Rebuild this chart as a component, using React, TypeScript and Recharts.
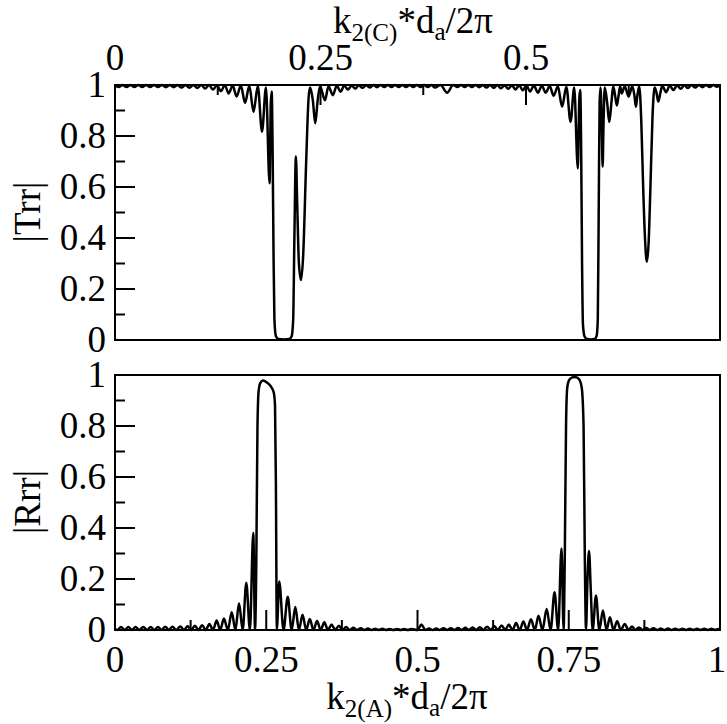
import { LineChart, Line, XAxis, YAxis, ReferenceArea } from "recharts";

// |Trr| (upper panel) and |Rrr| (lower panel) against k2(A)*da/2π.
// Points as [x, value]; x is always the k2(A) coordinate.

const TRR_LEFT: [number, number][] = [
  [0, 0.997], [0.006, 0.992], [0.0125, 1], [0.019, 0.992], [0.0255, 1], [0.032, 0.992], [0.0385, 1],
  [0.045, 0.992], [0.0515, 1], [0.058, 0.992], [0.0645, 1], [0.071, 0.992], [0.0775, 1],
  [0.084, 0.991], [0.0905, 1], [0.097, 0.991], [0.1035, 1], [0.11, 0.99], [0.1165, 1],
  [0.123, 0.989], [0.1295, 1], [0.136, 0.988], [0.1425, 1], [0.149, 0.986], [0.1555, 1],
  [0.162, 0.982], [0.1685, 0.999], [0.175, 0.976], [0.1815, 0.999], [0.188, 0.967], [0.1945, 0.998],
  [0.201, 0.955], [0.208, 0.998], [0.215, 0.93], [0.222, 0.997], [0.229, 0.895], [0.236, 0.996],
  [0.243, 0.817], [0.2495, 0.99], [0.2555, 0.615],
];

const TRR_GAP1: [number, number][] = [
  [0.2575, 0.93], [0.259, 0.975], [0.2605, 0.75], [0.262, 0.35], [0.2635, 0.08], [0.266, 0.015],
  [0.27, 0.004], [0.279, 0.002], [0.288, 0.004], [0.292, 0.015], [0.2945, 0.08], [0.2965, 0.4],
  [0.299, 0.72], [0.301, 0.55], [0.304, 0.3], [0.3074, 0.235], [0.311, 0.33], [0.316, 0.7],
  [0.32, 0.95], [0.3225, 0.99], [0.327, 0.94], [0.331, 0.85], [0.335, 0.94], [0.339, 0.995],
];

const TRR_MID: [number, number][] = [
  [0.347, 0.94], [0.353, 0.995], [0.36, 0.96], [0.3665, 0.997], [0.373, 0.974], [0.379, 0.998],
  [0.385, 0.982], [0.391, 0.998], [0.397, 0.986], [0.403, 0.999], [0.409, 0.989], [0.415, 0.999],
  [0.421, 0.99], [0.427, 1], [0.433, 0.991], [0.439, 1], [0.445, 0.992], [0.451, 1],
  [0.457, 0.992], [0.463, 1], [0.469, 0.992], [0.475, 1], [0.481, 0.992], [0.487, 1],
  [0.493, 0.992], [0.499, 1], [0.505, 0.992], [0.511, 1], [0.517, 0.992], [0.523, 1],
  [0.529, 0.99], [0.538, 1], [0.549, 0.97], [0.559, 1], [0.566, 0.992], [0.572, 1],
  [0.578, 0.992], [0.584, 1], [0.59, 0.992], [0.596, 1], [0.602, 0.991], [0.608, 1],
  [0.614, 0.99], [0.62, 1], [0.626, 0.989], [0.632, 1], [0.638, 0.987], [0.644, 0.999],
  [0.65, 0.985], [0.656, 0.999], [0.662, 0.982], [0.668, 0.999], [0.674, 0.979], [0.68, 0.998],
  [0.686, 0.975], [0.6925, 0.998], [0.699, 0.97], [0.7055, 0.997], [0.712, 0.97], [0.7185, 0.996],
  [0.725, 0.958], [0.732, 0.995], [0.739, 0.915], [0.746, 0.993], [0.753, 0.856], [0.759, 0.99],
  [0.765, 0.673],
];

const TRR_GAP2: [number, number][] = [
  [0.7675, 0.95], [0.769, 0.98], [0.7705, 0.75], [0.772, 0.3], [0.7735, 0.06], [0.776, 0.015],
  [0.78, 0.004], [0.7865, 0.002], [0.793, 0.004], [0.796, 0.015], [0.798, 0.08], [0.7995, 0.5],
  [0.801, 0.93], [0.8025, 0.99], [0.8045, 0.85], [0.806, 0.68], [0.8075, 0.85], [0.8095, 0.99],
  [0.8135, 0.93], [0.817, 0.855], [0.8205, 0.93], [0.8235, 0.995], [0.8265, 0.96], [0.8295, 0.92],
  [0.8325, 0.96], [0.835, 0.995], [0.8375, 0.967], [0.8425, 0.995], [0.849, 0.955], [0.855, 0.995],
  [0.8585, 0.96], [0.861, 0.915], [0.8635, 0.96], [0.8665, 0.995], [0.87, 0.85], [0.873, 0.6],
  [0.876, 0.4], [0.879, 0.307], [0.882, 0.38], [0.885, 0.6], [0.8885, 0.88], [0.892, 0.99],
];

const TRR_RIGHT: [number, number][] = [
  [0.895, 0.97], [0.898, 0.935], [0.9015, 0.97], [0.9045, 0.997], [0.911, 0.972], [0.917, 0.998],
  [0.923, 0.98], [0.929, 0.999], [0.935, 0.985], [0.941, 0.999], [0.947, 0.988], [0.953, 1],
  [0.959, 0.99], [0.965, 1], [0.971, 0.991], [0.977, 1], [0.983, 0.992], [0.989, 1],
  [0.995, 0.993], [1, 0.998],
];

const RRR_LEFT: [number, number][] = [
  [0, 0.003], [0.004, 0], [0.01, 0.012], [0.016, 0], [0.022, 0.012], [0.028, 0], [0.034, 0.012],
  [0.04, 0], [0.047, 0.012], [0.053, 0], [0.059, 0.012], [0.065, 0], [0.071, 0.012], [0.077, 0],
  [0.083, 0.013], [0.089, 0], [0.095, 0.013], [0.101, 0], [0.108, 0.014], [0.114, 0],
  [0.12, 0.015], [0.126, 0], [0.132, 0.017], [0.138, 0], [0.144, 0.019], [0.15, 0],
  [0.156, 0.024], [0.162, 0], [0.168, 0.037], [0.174, 0], [0.18, 0.045], [0.1865, 0],
  [0.193, 0.07], [0.199, 0], [0.205, 0.105], [0.211, 0], [0.217, 0.185], [0.223, 0],
  [0.2285, 0.38], [0.2315, 0.003],
];

const RRR_PEAK1: [number, number][] = [
  [0.2335, 0.25], [0.2355, 0.8], [0.2375, 0.94], [0.2405, 0.97], [0.2445, 0.978], [0.249, 0.974],
  [0.254, 0.965], [0.259, 0.95], [0.2625, 0.93], [0.2645, 0.88], [0.266, 0.55], [0.2675, 0.003],
  [0.2715, 0.19],
];

const RRR_MID: [number, number][] = [
  [0.2785, 0], [0.2855, 0.13], [0.292, 0], [0.298, 0.09], [0.304, 0], [0.31, 0.06], [0.316, 0],
  [0.322, 0.043], [0.328, 0], [0.334, 0.035], [0.34, 0], [0.346, 0.03], [0.352, 0], [0.358, 0.022],
  [0.364, 0], [0.37, 0.017], [0.376, 0], [0.382, 0.012], [0.388, 0], [0.394, 0.009], [0.4, 0],
  [0.406, 0.007], [0.412, 0], [0.418, 0.006], [0.424, 0], [0.43, 0.005], [0.436, 0], [0.442, 0.005],
  [0.448, 0], [0.454, 0.004], [0.46, 0], [0.466, 0.004], [0.472, 0], [0.478, 0.004], [0.484, 0],
  [0.49, 0.004], [0.5, 0], [0.5065, 0.022], [0.513, 0], [0.519, 0.006], [0.525, 0], [0.531, 0.006],
  [0.537, 0], [0.543, 0.007], [0.549, 0], [0.555, 0.007], [0.561, 0], [0.567, 0.008], [0.573, 0],
  [0.579, 0.009], [0.585, 0], [0.591, 0.01], [0.597, 0], [0.603, 0.011], [0.609, 0], [0.615, 0.013],
  [0.621, 0], [0.627, 0.015], [0.633, 0], [0.639, 0.018], [0.645, 0], [0.651, 0.022], [0.657, 0],
  [0.663, 0.027], [0.669, 0], [0.675, 0.033], [0.681, 0], [0.6875, 0.042], [0.694, 0], [0.7, 0.056],
  [0.7065, 0], [0.7135, 0.082], [0.72, 0], [0.7265, 0.148], [0.7325, 0], [0.738, 0.32], [0.7415, 0.003],
];

const RRR_PEAK2: [number, number][] = [
  [0.7435, 0.3], [0.7455, 0.8], [0.7475, 0.95], [0.7505, 0.98], [0.755, 0.99], [0.7595, 0.992],
  [0.764, 0.99], [0.768, 0.98], [0.7715, 0.95], [0.7745, 0.8], [0.7765, 0.3], [0.7785, 0.003],
  [0.781, 0.2], [0.7835, 0.31], [0.7865, 0.15], [0.7895, 0],
];

const RRR_RIGHT: [number, number][] = [
  [0.795, 0.135], [0.8005, 0], [0.8065, 0.076], [0.8125, 0], [0.818, 0.05], [0.824, 0],
  [0.83, 0.034], [0.836, 0], [0.8425, 0.024], [0.849, 0], [0.8545, 0.014], [0.86, 0],
  [0.866, 0.01], [0.872, 0], [0.878, 0.008], [0.884, 0], [0.89, 0.007], [0.896, 0],
  [0.902, 0.006], [0.908, 0], [0.914, 0.006], [0.92, 0], [0.926, 0.005], [0.932, 0],
  [0.938, 0.005], [0.944, 0], [0.95, 0.005], [0.956, 0], [0.962, 0.005], [0.968, 0],
  [0.974, 0.005], [0.98, 0], [0.986, 0.005], [0.992, 0], [0.997, 0.004], [1, 0.002],
];

const Y_TICKS = [0, 0.1, 0.2, 0.3, 0.4, 0.5, 0.6, 0.7, 0.8, 0.9, 1];
const A_TICKS = [0, 0.125, 0.25, 0.375, 0.5, 0.625, 0.75, 0.875, 1];
const C_TICKS = [0, 0.125, 0.25, 0.375, 0.5, 0.625];
const C_MAX = 0.736; // k2(C)*da/2π at the right edge of the frame

const toRows = (pts: [number, number][]) => pts.map(([x, y]) => ({ x, y }));
const TRR = toRows([...TRR_LEFT, ...TRR_GAP1, ...TRR_MID, ...TRR_GAP2, ...TRR_RIGHT]);
const RRR = toRows([...RRR_LEFT, ...RRR_PEAK1, ...RRR_MID, ...RRR_PEAK2, ...RRR_RIGHT]);
// top axis shares the k2(A) scale; its k2(C) ticks sit at c / C_MAX
const C_TICK_POS = C_TICKS.map((c) => c / C_MAX);

const FONT = "'Liberation Serif', 'Times New Roman', serif";
const FS = 37;
const W = 727;
const LEFT = 115;
const MARGIN_R = W - 720;

// panel 1: frame y 85..340 ; panel 2 (own svg, placed 345 down): frame y 30..285 (page 375..630)
// axes get 1px of room (a 0px axis is not drawn), so margins give that pixel back
const P1 = { h: 362, top: 85, bottom: 340 };
const P2 = { at: 345, h: 379, top: 30, bottom: 285 };

function YTick({ y, payload }: any) {
  const v = payload.value as number;
  const major = Math.round(v * 10) % 2 === 0;
  return (
    <g>
      <line x1={LEFT} x2={LEFT + (major ? 20 : 10)} y1={y} y2={y} stroke="#000" strokeWidth={2} />
      {major && (
        <text x={106} y={y} dy={12} textAnchor="end" fontSize={FS} fontFamily={FONT} fill="#000">
          {String(v)}
        </text>
      )}
    </g>
  );
}

function TopTick({ x, payload }: any) {
  const c = Math.round(payload.value * C_MAX * 8) / 8;
  const major = Math.round(c * 8) % 2 === 0;
  return (
    <g>
      <line x1={x} x2={x} y1={P1.top} y2={P1.top + (major ? 20 : 10)} stroke="#000" strokeWidth={2} />
      {major && (
        <text x={x} y={70} textAnchor="middle" fontSize={FS} fontFamily={FONT} fill="#000">
          {String(c)}
        </text>
      )}
    </g>
  );
}

function BottomTick({ x, payload }: any) {
  const v = payload.value as number;
  const major = Math.round(v * 8) % 2 === 0;
  return (
    <g>
      <line x1={x} x2={x} y1={P2.bottom} y2={P2.bottom - (major ? 20 : 10)} stroke="#000" strokeWidth={2} />
      {major && (
        <text x={v === 1 ? x - 3 : x} y={P2.bottom + 42} textAnchor="middle" fontSize={FS} fontFamily={FONT} fill="#000">
          {String(v)}
        </text>
      )}
    </g>
  );
}

function KTitle({ x, y, sub }: { x: number; y: number; sub: string }) {
  return (
    <text x={x} y={y} textAnchor="middle" fontSize={FS} fontFamily={FONT} fill="#000">
      k<tspan fontSize={25} dy={8}>{sub}</tspan>
      <tspan dy={-8}>*d</tspan>
      <tspan fontSize={25} dy={7}>a</tspan>
      <tspan dy={-7}>/2π</tspan>
    </text>
  );
}

function YTitle({ cy, text }: { cy: number; text: string }) {
  return (
    <text
      x={40}
      y={cy}
      transform={`rotate(-90 40 ${cy})`}
      textAnchor="middle"
      fontSize={FS}
      fontFamily={FONT}
      fill="#000"
    >
      {text}
    </text>
  );
}

export default function App() {
  return (
    <div style={{ position: "absolute", left: 0, top: 0, width: W, height: 724, background: "#fff" }}>
      <div style={{ position: "absolute", left: 0, top: 0 }}>
        <LineChart
          width={W}
          height={P1.h}
          data={TRR}
          margin={{ top: P1.top - 1, right: MARGIN_R, bottom: P1.h - P1.bottom, left: LEFT - 1 }}
        >
          <XAxis
            dataKey="x"
            orientation="top"
            type="number"
            domain={[0, 1]}
            ticks={C_TICK_POS}
            interval={0}
            height={1}
            axisLine={false}
            tickLine={false}
            tick={<TopTick />}
            label={() => <KTitle x={413} y={33} sub="2(C)" />}
          />
          <YAxis
            domain={[0, 1]}
            ticks={Y_TICKS}
            interval={0}
            width={1}
            axisLine={false}
            tickLine={false}
            tick={<YTick />}
            label={() => <YTitle cy={212} text="|Trr|" />}
          />
          <Line
            type="monotone"
            dataKey="y"
            stroke="#000"
            strokeWidth={2.5}
            dot={false}
            activeDot={false}
            isAnimationActive={false}
          />
          <ReferenceArea x1={0} x2={1} y1={0} y2={1} fill="none" stroke="#000" strokeWidth={2} />
        </LineChart>
      </div>
      <div style={{ position: "absolute", left: 0, top: P2.at }}>
        <LineChart
          width={W}
          height={P2.h}
          data={RRR}
          margin={{ top: P2.top, right: MARGIN_R, bottom: P2.h - P2.bottom - 1, left: LEFT - 1 }}
        >
          <XAxis
            dataKey="x"
            type="number"
            domain={[0, 1]}
            ticks={A_TICKS}
            interval={0}
            height={1}
            axisLine={false}
            tickLine={false}
            tick={<BottomTick />}
            label={() => <KTitle x={407} y={709 - P2.at} sub="2(A)" />}
          />
          <YAxis
            domain={[0, 1]}
            ticks={Y_TICKS}
            interval={0}
            width={1}
            axisLine={false}
            tickLine={false}
            tick={<YTick />}
            label={() => <YTitle cy={502 - P2.at} text="|Rrr|" />}
          />
          <Line
            type="monotone"
            dataKey="y"
            stroke="#000"
            strokeWidth={2.5}
            dot={false}
            activeDot={false}
            isAnimationActive={false}
          />
          <ReferenceArea x1={0} x2={1} y1={0} y2={1} fill="none" stroke="#000" strokeWidth={2} />
        </LineChart>
      </div>
    </div>
  );
}
